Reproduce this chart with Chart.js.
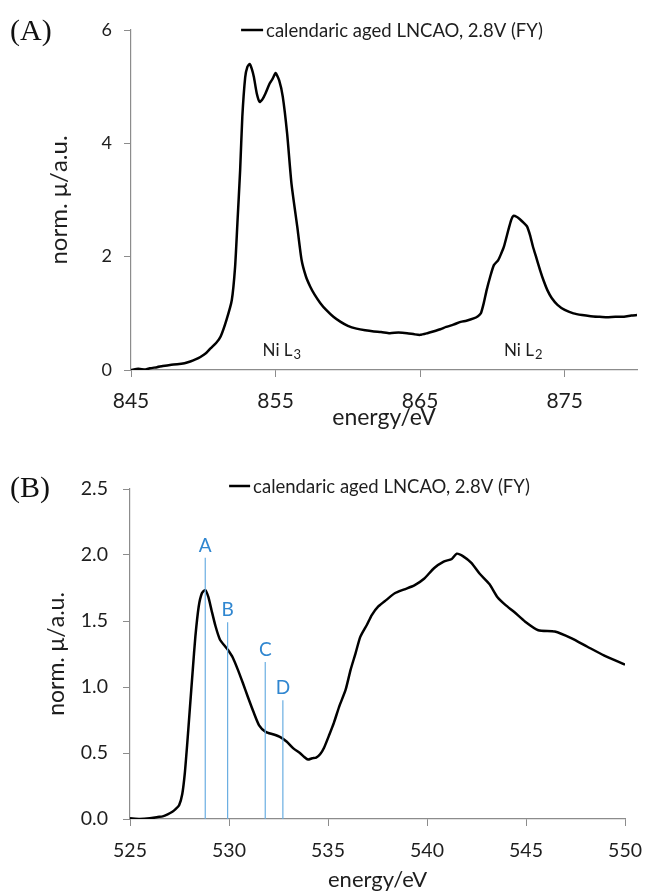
<!DOCTYPE html>
<html>
<head>
<meta charset="utf-8">
<script src="https://cdn.jsdelivr.net/npm/chart.js@4.4.1/dist/chart.umd.min.js"></script>
<style>
  body { margin: 0; background: #fff; }
  .wrap { position: relative; width: 655px; height: 896px; }
  canvas { position: absolute; left: 0; }
  .panel { position: absolute; left: 10px; font-family: "Liberation Serif", serif; font-size: 30px; line-height: 1; color: #111; }
</style>
</head>
<body>
<div class="wrap">
  <canvas id="niChart" width="655" height="445" style="top:0"></canvas>
  <canvas id="oChart" width="655" height="451" style="top:445px"></canvas>
  <div class="panel" style="top:15px">(A)</div>
  <div class="panel" style="top:472px">(B)</div>
</div>
<script>
// Ni L-edge spectrum (panel A)
const niEnergy = [845.0, 845.5, 846.0, 846.3, 846.8, 847.2, 847.7, 848.2, 848.7, 849.1, 849.5, 849.8,
  850.2, 850.5, 850.9, 851.2, 851.6, 851.97, 852.2, 852.36, 852.55, 852.7, 852.9, 853.05, 853.2, 853.35,
  853.5, 853.7, 853.9, 854.1, 854.3, 854.6, 854.8, 855.0, 855.25, 855.5, 855.8, 856.1, 856.5, 856.8,
  857.1, 857.4, 857.7, 858.1, 858.5, 859.0, 859.5, 860.0, 860.6, 861.2, 861.8, 862.3, 862.9, 863.5,
  864.1, 864.6, 865.0, 865.5, 865.9, 866.4, 866.8, 867.3, 867.8, 868.2, 868.7, 869.0, 869.2, 869.4,
  869.6, 869.85, 870.1, 870.4, 870.6, 870.8, 871.1, 871.3, 871.45, 871.7, 871.9, 872.15, 872.4, 872.6,
  872.8, 873.05, 873.3, 873.55, 873.8, 874.1, 874.5, 875.0, 875.6, 876.2, 876.8, 877.3, 877.9, 878.5,
  879.1, 879.6, 880.0];
const niMu = [0.00, 0.02, 0.01, 0.03, 0.05, 0.07, 0.09, 0.10, 0.12, 0.15, 0.19, 0.23,
  0.30, 0.38, 0.48, 0.59, 0.88, 1.23, 1.82, 2.59, 3.53, 4.47, 5.17, 5.35, 5.40, 5.32,
  5.17, 4.88, 4.73, 4.78, 4.88, 5.06, 5.14, 5.24, 5.11, 4.82, 4.17, 3.29, 2.53, 1.94,
  1.65, 1.47, 1.33, 1.18, 1.06, 0.94, 0.85, 0.78, 0.73, 0.70, 0.68, 0.67, 0.65, 0.66,
  0.65, 0.63, 0.62, 0.65, 0.68, 0.72, 0.76, 0.80, 0.85, 0.87, 0.91, 0.95, 1.00, 1.18,
  1.41, 1.65, 1.85, 1.94, 2.05, 2.18, 2.47, 2.65, 2.72, 2.70, 2.66, 2.60, 2.53, 2.38,
  2.18, 1.97, 1.76, 1.57, 1.41, 1.27, 1.15, 1.06, 1.00, 0.97, 0.95, 0.94, 0.93, 0.94,
  0.94, 0.96, 0.97];
const niTicksX = [845, 855, 865, 875];
const niTicksY = [0, 2, 4, 6];
const niEdgeNames = ['Ni L', 'Ni L'];
const niEdgeSubs = ['3', '2'];
const niEdgeAt = [855.4, 872.1];
const niEdgeHeight = [0.35, 0.35];

// O K-edge spectrum (panel B)
const oEnergy = [525.0, 525.5, 526.0, 526.4, 526.65, 526.9, 527.14, 527.3, 527.48, 527.64, 527.77, 527.89,
  528.02, 528.17, 528.3, 528.47, 528.63, 528.8, 528.96, 529.12, 529.32, 529.54, 529.79, 529.95,
  530.2, 530.45, 530.7, 530.94, 531.24, 531.52, 531.85, 532.26, 532.59, 532.92, 533.25, 533.58,
  533.8, 533.99, 534.2, 534.4, 534.6, 534.8, 535.07, 535.3, 535.56, 535.89, 536.14, 536.39,
  536.63, 536.96, 537.21, 537.54, 537.95, 538.37, 538.86, 539.36, 539.85, 540.35, 540.84, 541.25,
  541.5, 541.83, 542.24, 542.65, 543.15, 543.56, 543.97, 544.39, 544.96, 545.62, 546.45, 547.28,
  548.1, 548.93, 550.0];
const oMu = [0.005, 0.0, 0.005, 0.015, 0.02, 0.035, 0.055, 0.075, 0.105, 0.19, 0.35, 0.57,
  0.83, 1.13, 1.38, 1.61, 1.71, 1.735, 1.68, 1.58, 1.46, 1.36, 1.31, 1.28,
  1.22, 1.13, 1.03, 0.93, 0.81, 0.71, 0.66, 0.64, 0.62, 0.585, 0.535, 0.50,
  0.47, 0.45, 0.46, 0.465, 0.49, 0.54, 0.64, 0.73, 0.85, 0.98, 1.13, 1.255,
  1.38, 1.47, 1.545, 1.61, 1.66, 1.71, 1.74, 1.77, 1.82, 1.90, 1.95, 1.97,
  2.01, 1.99, 1.94, 1.86, 1.78, 1.68, 1.62, 1.57, 1.495, 1.43, 1.42, 1.37,
  1.305, 1.24, 1.17];
const oTicksX = [525, 530, 535, 540, 545, 550];
const oTicksY = [0, 0.5, 1.0, 1.5, 2.0, 2.5];
const markNames = ['A', 'B', 'C', 'D'];
const markAt = [528.8, 529.93, 531.83, 532.72];
const markTop = [1.98, 1.49, 1.19, 0.90];

const seriesLabel = 'calendaric aged LNCAO, 2.8V (FY)';
const axisGrey = '#8c8c8c';
const inkColor = '#1e1e1e';
const markBlue = '#2f86d0';

Chart.defaults.font.family = 'Lato';
Chart.defaults.color = inkColor;

// legend drawn inside the plot, centred near its top edge
const lineLegend = {
  id: 'lineLegend',
  afterDraw(chart, args, opts) {
    const ds = chart.data.datasets[0];
    const ctx = chart.ctx;
    const area = chart.chartArea;
    ctx.save();
    ctx.font = opts.size + 'px Lato';
    const w = opts.sample + opts.gap + ctx.measureText(ds.label).width;
    const x0 = (area.left + area.right) / 2 + opts.shift - w / 2;
    const yy = area.top + opts.dy;
    ctx.strokeStyle = ds.borderColor;
    ctx.lineWidth = ds.borderWidth;
    ctx.beginPath();
    ctx.moveTo(x0, yy);
    ctx.lineTo(x0 + opts.sample, yy);
    ctx.stroke();
    ctx.fillStyle = inkColor;
    ctx.textAlign = 'left';
    ctx.textBaseline = 'middle';
    ctx.fillText(ds.label, x0 + opts.sample + opts.gap, yy + 1);
    ctx.restore();
  }
};

// text notes placed at data coordinates (optional subscript)
const dataNotes = {
  id: 'dataNotes',
  afterDatasetsDraw(chart, args, opts) {
    const ctx = chart.ctx;
    const xs = chart.scales.x, ys = chart.scales.y;
    ctx.save();
    ctx.textBaseline = 'middle';
    opts.items.forEach(it => {
      const px = xs.getPixelForValue(it.x);
      const py = ys.getPixelForValue(it.y) + (it.dy || 0);
      ctx.fillStyle = it.color;
      ctx.font = it.size + 'px Lato';
      const mainW = ctx.measureText(it.text).width;
      let subW = 0;
      if (it.sub) {
        ctx.font = it.subSize + 'px Lato';
        subW = ctx.measureText(it.sub).width;
      }
      const left = px - (mainW + subW) / 2;
      ctx.textAlign = 'left';
      ctx.font = it.size + 'px Lato';
      ctx.fillText(it.text, left, py);
      if (it.sub) {
        ctx.font = it.subSize + 'px Lato';
        ctx.fillText(it.sub, left + mainW + 1, py + 5);
      }
    });
    ctx.restore();
  }
};

function fixedTicks(values) {
  return function (scale) { scale.ticks = values.map(v => ({ value: v })); };
}

function axisOptions(cfg) {
  return {
    x: {
      type: 'linear', min: cfg.xMin, max: cfg.xMax,
      afterBuildTicks: fixedTicks(cfg.xTicks),
      afterFit(s) { s.height = cfg.xHeight; },
      grid: { drawOnChartArea: false, drawTicks: true, tickLength: 7, color: axisGrey },
      border: { display: true, color: axisGrey, width: 1.2 },
      ticks: { padding: cfg.xTickPad, font: { size: cfg.xTickSize }, color: inkColor, maxRotation: 0 },
      title: { display: true, text: 'energy/eV', font: { size: cfg.xTitleSize }, color: inkColor, padding: { top: 0, bottom: cfg.xTitlePad } }
    },
    y: {
      type: 'linear', min: cfg.yMin, max: cfg.yMax,
      afterBuildTicks: fixedTicks(cfg.yTicks),
      afterFit(s) { s.width = cfg.yWidth; },
      grid: { drawOnChartArea: false, drawTicks: true, tickLength: 7, color: axisGrey },
      border: { display: true, color: axisGrey, width: 1.2 },
      ticks: { padding: cfg.yTickPad, font: { size: cfg.yTickSize }, color: inkColor, callback: cfg.yFormat },
      title: { display: true, text: 'norm. μ/a.u.', font: { size: cfg.yTitleSize }, color: inkColor, padding: { top: cfg.yTitlePad, bottom: 0 } }
    }
  };
}

function toPoints(xs, ys) {
  return xs.map((v, i) => ({ x: v, y: ys[i] }));
}

// panel A: Ni L3 / L2 edges
new Chart(document.getElementById('niChart'), {
  type: 'line',
  data: {
    datasets: [{
      label: seriesLabel,
      data: toPoints(niEnergy, niMu),
      borderColor: '#000', borderWidth: 2.5, pointRadius: 0, tension: 0.2, fill: false
    }]
  },
  options: {
    responsive: false, animation: false,
    layout: { padding: { left: 0, right: 18, top: 30, bottom: 0 } },
    scales: axisOptions({
      xMin: 845, xMax: 880, xTicks: niTicksX, xHeight: 75, xTickPad: 12, xTickSize: 21,
      xTitleSize: 23, xTitlePad: 14,
      yMin: 0, yMax: 6, yTicks: niTicksY, yWidth: 131, yTickPad: 12, yTickSize: 18,
      yTitleSize: 24, yTitlePad: 45, yFormat: v => String(v)
    }),
    plugins: {
      legend: { display: false },
      tooltip: { enabled: false },
      lineLegend: { size: 18.5, sample: 22, gap: 3, shift: 8, dy: 0 },
      dataNotes: {
        items: niEdgeNames.map((t, i) => ({
          text: t, sub: niEdgeSubs[i], x: niEdgeAt[i], y: niEdgeHeight[i],
          size: 17, subSize: 13, color: inkColor
        }))
      }
    }
  },
  plugins: [lineLegend, dataNotes]
});

// panel B: O K edge with pre-edge markers A-D
const markerSets = markAt.map((e, i) => ({
  label: markNames[i],
  data: [{ x: e, y: 0 }, { x: e, y: markTop[i] }],
  borderColor: '#6aaee2', borderWidth: 1.2, pointRadius: 0, fill: false, order: 0
}));

new Chart(document.getElementById('oChart'), {
  type: 'line',
  data: {
    datasets: [{
      label: seriesLabel,
      data: toPoints(oEnergy, oMu),
      borderColor: '#000', borderWidth: 2.5, pointRadius: 0, tension: 0.2, fill: false, order: 1
    }].concat(markerSets)
  },
  options: {
    responsive: false, animation: false,
    layout: { padding: { left: 0, right: 20, top: 44, bottom: 0 } },
    scales: axisOptions({
      xMin: 525, xMax: 550, xTicks: oTicksX, xHeight: 77, xTickPad: 13, xTickSize: 19.5,
      xTitleSize: 22, xTitlePad: 3,
      yMin: 0, yMax: 2.5, yTicks: oTicksY, yWidth: 130, yTickPad: 15, yTickSize: 19.5,
      yTitleSize: 23, yTitlePad: 43, yFormat: v => v.toFixed(1)
    }),
    plugins: {
      legend: { display: false },
      tooltip: { enabled: false },
      lineLegend: { size: 18.5, sample: 21, gap: 3, shift: 2, dy: -3 },
      dataNotes: {
        items: markNames.map((t, i) => ({
          text: t, x: markAt[i], y: markTop[i], dy: -12, size: 19, color: markBlue
        }))
      }
    }
  },
  plugins: [lineLegend, dataNotes]
});
</script>
</body>
</html>
